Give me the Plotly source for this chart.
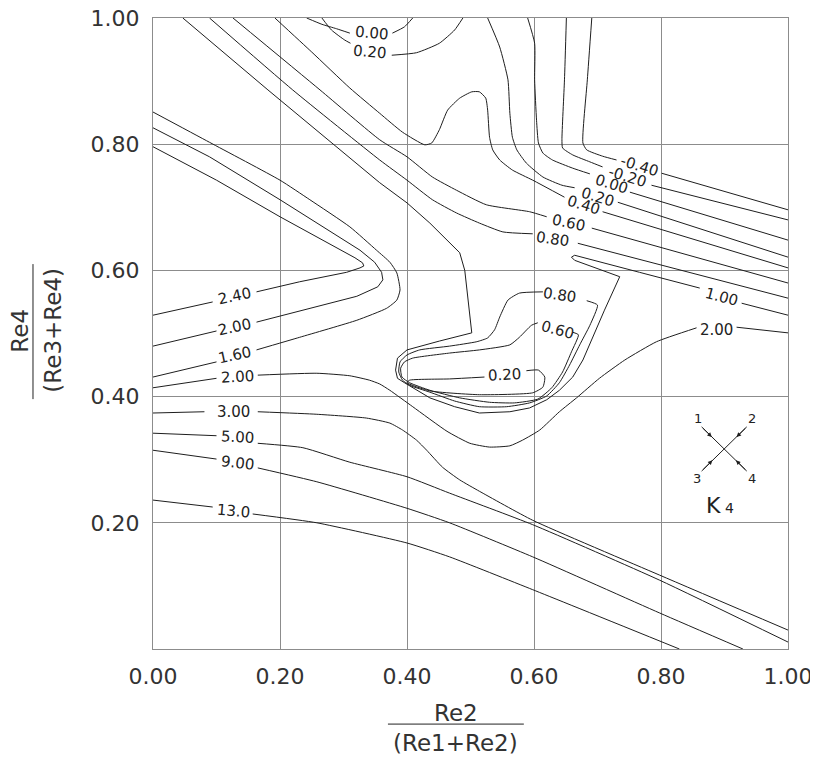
import plotly.graph_objects as go

# ---------------- data: traced contour polylines (data units); None = gap for inline label
c100_x = [0.047, 0.181, 0.357, 0.400, 0.436, 0.467, 0.483, 0.491, 0.496, 0.502, 0.451, 0.400, 0.385, 0.382, 0.385, 0.396, 0.436, 0.475, 0.514, 0.562, 0.593, 0.620, 0.640, 0.661, 0.677, 0.692, 0.711, 0.735, 0.664, 0.659, 0.664, 0.766, 0.861, None, 0.927, 1.0]
c100_y = [1.000, 0.886, 0.739, 0.707, 0.675, 0.643, 0.628, 0.600, 0.553, 0.501, 0.488, 0.474, 0.461, 0.442, 0.429, 0.422, 0.398, 0.384, 0.374, 0.376, 0.382, 0.395, 0.410, 0.431, 0.458, 0.494, 0.537, 0.590, 0.616, 0.621, 0.624, 0.597, 0.572, None, 0.548, 0.529]

c080_x = [0.089, 0.220, 0.357, 0.400, 0.440, 0.478, 0.514, 0.551, 0.598, None, 0.669, 1.0]
c080_y = [1.000, 0.886, 0.775, 0.743, 0.712, 0.691, 0.675, 0.661, 0.658, None, 0.643, 0.556]

c060_x = [0.126, 0.263, 0.357, 0.400, 0.440, 0.478, 0.525, 0.593, 0.620, None, 0.691, 1.0]
c060_y = [1.000, 0.886, 0.807, 0.780, 0.748, 0.727, 0.704, 0.693, 0.685, None, 0.667, 0.580]

c040_x = [0.192, 0.250, 0.310, 0.357, 0.393, 0.428, 0.439, 0.451, 0.464, 0.483, 0.502, 0.514, 0.524, 0.527, 0.530, 0.535, 0.546, 0.566, 0.598, 0.648, None, 0.708, 1.0]
c040_y = [1.000, 0.946, 0.889, 0.849, 0.819, 0.799, 0.802, 0.823, 0.854, 0.873, 0.883, 0.883, 0.873, 0.854, 0.811, 0.791, 0.775, 0.759, 0.743, 0.716, None, 0.693, 0.604]

c020_x = [0.527, 0.546, 0.559, 0.562, 0.566, 0.573, 0.588, 0.614, 0.644, 0.664, None, 0.732, 1.0]
c020_y = [1.000, 0.954, 0.902, 0.849, 0.811, 0.791, 0.770, 0.748, 0.735, 0.731, None, 0.708, 0.621]

c000_x = [0.590, 0.601, 0.601, 0.604, 0.607, 0.614, 0.629, 0.661, 0.688, None, 0.751, 1.0]
c000_y = [1.000, 0.960, 0.902, 0.838, 0.802, 0.786, 0.775, 0.762, 0.753, None, 0.724, 0.648]

cm020_x = [0.651, 0.648, 0.644, 0.645, 0.661, 0.688, 0.708, None, 0.785, 1.0]
cm020_y = [1.000, 0.902, 0.807, 0.794, 0.783, 0.772, 0.764, None, 0.735, 0.680]

cm040_x = [0.691, 0.684, 0.677, 0.683, 0.708, 0.730, None, 0.801, 1.0]
cm040_y = [1.000, 0.902, 0.802, 0.791, 0.781, 0.775, None, 0.754, 0.696]

top000_x = [0.242, 0.266, 0.289, 0.310, None, 0.377, 0.396, 0.409]
top000_y = [1.000, 0.990, 0.983, 0.976, None, 0.976, 0.986, 1.000]

top020_x = [0.266, 0.281, 0.302, 0.311, None, 0.376, 0.415, 0.451, 0.475, 0.488]
top020_y = [1.000, 0.981, 0.965, 0.960, None, 0.941, 0.945, 0.960, 0.981, 1.000]

loop080_x = [0.683, 0.700, 0.688, 0.672, 0.656, 0.640, 0.620, 0.593, 0.557, 0.514, 0.475, 0.436, 0.404, 0.393, 0.387, 0.389, 0.400, 0.420, 0.467, 0.510, 0.527, 0.538, 0.546, 0.559, 0.577, 0.614]
loop080_y = [0.552, 0.545, 0.513, 0.482, 0.450, 0.422, 0.401, 0.390, 0.384, 0.384, 0.393, 0.407, 0.418, 0.426, 0.439, 0.455, 0.466, 0.474, 0.480, 0.487, 0.493, 0.506, 0.526, 0.553, 0.564, 0.566]

loop060_x = [0.661, 0.670, 0.659, 0.645, 0.628, 0.606, 0.569, 0.530, 0.483, 0.436, 0.404, 0.392, 0.390, 0.396, 0.409, 0.467, 0.514, 0.562, 0.577, 0.596, 0.606]
loop060_y = [0.502, 0.498, 0.471, 0.439, 0.414, 0.396, 0.390, 0.391, 0.398, 0.410, 0.422, 0.431, 0.445, 0.455, 0.461, 0.469, 0.474, 0.482, 0.494, 0.513, 0.517]

loop020_x = [0.588, 0.607, 0.617, 0.614, 0.598, 0.514, 0.436, 0.400, 0.404, 0.467, 0.522]
loop020_y = [0.441, 0.442, 0.431, 0.415, 0.406, 0.403, 0.409, 0.422, 0.426, 0.428, 0.431]

c240_x = [0.0, 0.100, 0.200, 0.267, 0.318, 0.330, 0.332, 0.326, 0.305, 0.231, 0.163, None, 0.094, 0.0]
c240_y = [0.796, 0.743, 0.685, 0.648, 0.620, 0.612, 0.607, 0.604, 0.597, 0.582, 0.566, None, 0.550, 0.529]

c200_x = [0.0, 0.089, 0.200, 0.267, 0.326, 0.349, 0.360, 0.362, 0.354, 0.321, 0.231, 0.163, None, 0.100, 0.0]
c200_y = [0.826, 0.780, 0.712, 0.669, 0.632, 0.613, 0.597, 0.585, 0.574, 0.559, 0.536, 0.518, None, 0.504, 0.480]

c160_x = [0.0, 0.089, 0.200, 0.247, 0.310, 0.352, 0.373, 0.384, 0.389, 0.384, 0.368, 0.321, 0.231, 0.163, None, 0.100, 0.0]
c160_y = [0.851, 0.803, 0.743, 0.712, 0.669, 0.632, 0.613, 0.596, 0.569, 0.553, 0.540, 0.521, 0.494, 0.474, None, 0.455, 0.431]

c200b_x = [0.0, 0.100, None, 0.165, 0.258, 0.310, 0.341, 0.357, 0.373, 0.409, 0.463, 0.499, 0.530, 0.562, 0.582, 0.609, 0.640, 0.667, 0.703, 0.743, 0.793, 0.856, None, 0.919, 1.0]
c200b_y = [0.414, 0.429, None, 0.434, 0.437, 0.433, 0.426, 0.420, 0.410, 0.384, 0.345, 0.326, 0.320, 0.322, 0.331, 0.347, 0.376, 0.398, 0.429, 0.458, 0.487, 0.509, None, 0.510, 0.501]

c300_x = [0.0, 0.081, None, 0.165, 0.258, 0.336, 0.373, 0.393, 0.415, 0.431, 0.456, 0.483, 0.514, 0.598, 0.798, 1.0]
c300_y = [0.374, 0.376, None, 0.376, 0.372, 0.366, 0.358, 0.347, 0.331, 0.315, 0.288, 0.268, 0.250, 0.204, 0.117, 0.030]

c500_x = [0.0, 0.100, None, 0.165, 0.236, 0.310, 0.400, 0.467, 0.598, 0.798, 1.0]
c500_y = [0.342, 0.338, None, 0.326, 0.319, 0.296, 0.273, 0.247, 0.197, 0.109, 0.011]

c900_x = [0.0, 0.100, None, 0.165, 0.258, 0.400, 0.467, 0.598, 0.798, 0.929]
c900_y = [0.315, 0.301, None, 0.287, 0.265, 0.223, 0.200, 0.146, 0.057, 0.0]

c1300_x = [0.0, 0.094, None, 0.157, 0.258, 0.400, 0.467, 0.598, 0.829]
c1300_y = [0.236, 0.225, None, 0.214, 0.200, 0.168, 0.146, 0.094, 0.0]

# inline contour labels
label_text = ["1.00", "0.80", "0.60", "0.40", "0.20", "0.00", "-0.20", "-0.40",
              "0.00", "0.20", "0.80", "0.60", "0.20",
              "2.40", "2.00", "1.60", "2.00", "2.00", "3.00", "5.00", "9.00", "13.0"]
label_x = [0.896, 0.629, 0.655, 0.678, 0.700, 0.722, 0.748, 0.766,
           0.344, 0.341, 0.640, 0.637, 0.554,
           0.129, 0.129, 0.129, 0.133, 0.888, 0.126, 0.133, 0.133, 0.126]
label_y = [0.558, 0.650, 0.675, 0.704, 0.716, 0.737, 0.748, 0.765,
           0.976, 0.946, 0.561, 0.506, 0.434,
           0.559, 0.510, 0.466, 0.431, 0.506, 0.376, 0.336, 0.295, 0.219]
label_angle = [15, 8, 12, 17, 17, 17, 17, 17,
               5, 5, 8, 15, -3,
               -12, -12, -12, -3, 0, 0, 3, 7, 5]

x_ticks = [0.0, 0.2, 0.4, 0.6, 0.8, 1.0]
x_tick_text = ["0.00", "0.20", "0.40", "0.60", "0.80", "1.00"]
y_ticks = [0.2, 0.4, 0.6, 0.8, 1.0]
y_tick_text = ["0.20", "0.40", "0.60", "0.80", "1.00"]

curved = [(c080_x, c080_y), (c060_x, c060_y), (c040_x, c040_y), (c020_x, c020_y),
          (c000_x, c000_y), (cm020_x, cm020_y), (cm040_x, cm040_y),
          (top000_x, top000_y), (top020_x, top020_y),
          (loop080_x, loop080_y), (loop060_x, loop060_y), (loop020_x, loop020_y),
          (c160_x, c160_y), (c200b_x, c200b_y), (c300_x, c300_y), (c500_x, c500_y),
          (c900_x, c900_y), (c1300_x, c1300_y)]
straight = [(c100_x, c100_y), (c240_x, c240_y), (c200_x, c200_y)]

LINE = "#1e1e1e"
TXT = "#333333"
FONT = "DejaVu Sans"

fig = go.Figure()
for xs, ys in curved:
    fig.add_trace(go.Scatter(x=xs, y=ys, mode="lines",
                             line=dict(color=LINE, width=1, shape="spline", smoothing=0.5),
                             hoverinfo="skip", showlegend=False))
for xs, ys in straight:
    fig.add_trace(go.Scatter(x=xs, y=ys, mode="lines",
                             line=dict(color=LINE, width=1),
                             hoverinfo="skip", showlegend=False))

annotations = []
for t, x, y, a in zip(label_text, label_x, label_y, label_angle):
    annotations.append(dict(x=x, y=y, xref="x", yref="y", text=t, showarrow=False,
                            textangle=a, font=dict(family=FONT, size=15, color="#222")))

# K4 junction sketch
fig.add_shape(type="line", xref="x", yref="y", x0=0.864, y0=0.352, x1=0.935, y1=0.282,
              line=dict(color=LINE, width=1))
fig.add_shape(type="line", xref="x", yref="y", x0=0.935, y0=0.352, x1=0.864, y1=0.282,
              line=dict(color=LINE, width=1))
for tx, ty, hx, hy in [(0.864, 0.352, 0.880, 0.336), (0.935, 0.352, 0.919, 0.336),
                       (0.864, 0.282, 0.881, 0.299), (0.935, 0.282, 0.918, 0.299)]:
    annotations.append(dict(x=hx, y=hy, ax=tx, ay=ty, xref="x", yref="y", axref="x", ayref="y",
                            text="", showarrow=True, arrowhead=2, arrowsize=0.9,
                            arrowwidth=1, arrowcolor=LINE))
for t, x, y in [("1", 0.858, 0.366), ("2", 0.943, 0.366), ("3", 0.856, 0.270), ("4", 0.943, 0.270)]:
    annotations.append(dict(x=x, y=y, xref="x", yref="y", text=t, showarrow=False,
                            font=dict(family=FONT, size=13, color="#222")))
annotations.append(dict(x=0.893, y=0.228, xref="x", yref="y", showarrow=False,
                        text="K<span style='font-size:14px'> 4</span>",
                        font=dict(family=FONT, size=22, color="#222")))

# axis titles as fractions
tf = dict(family=FONT, size=23, color=TXT)
cm = dict(xref="paper", yref="paper", showarrow=False, font=tf, xanchor="center", yanchor="middle")
annotations += [
    dict(x=0.477, y=-0.101, text="Re2", **cm),
    dict(x=0.477, y=-0.149, text="(Re1+Re2)", **cm),
    dict(x=-0.209, y=0.505, text="Re4", textangle=-90, **cm),
    dict(x=-0.157, y=0.505, text="(Re3+Re4)", textangle=-90, **cm),
]
fig.add_shape(type="line", xref="paper", yref="paper", x0=0.370, x1=0.584, y0=-0.119, y1=-0.119,
              line=dict(color="#222", width=1))
fig.add_shape(type="line", xref="paper", yref="paper", x0=-0.189, x1=-0.189, y0=0.396, y1=0.610,
              line=dict(color="#222", width=1))

axis_common = dict(range=[0, 1], showgrid=True, gridcolor="#8c8c8c", gridwidth=1,
                   zeroline=False, showline=True, linecolor="#8c8c8c", linewidth=1,
                   mirror=True, ticks="", automargin=False, ticklabeloverflow="allow",
                   tickfont=dict(family=FONT, size=22, color=TXT))
# page body adds an 8px offset; margins compensate so the plot box lands at 153..788 x 18..649
fig.update_layout(
    width=810, height=754,
    margin=dict(l=145, r=30, t=10, b=113, autoexpand=False),
    paper_bgcolor="white", plot_bgcolor="white",
    xaxis=dict(tickvals=x_ticks, ticktext=x_tick_text, ticklabelstandoff=8, **axis_common),
    yaxis=dict(tickvals=y_ticks, ticktext=y_tick_text, ticklabelstandoff=8, **axis_common),
    annotations=annotations,
    hovermode=False,
    showlegend=False,
)
fig.write_html("out.html")
